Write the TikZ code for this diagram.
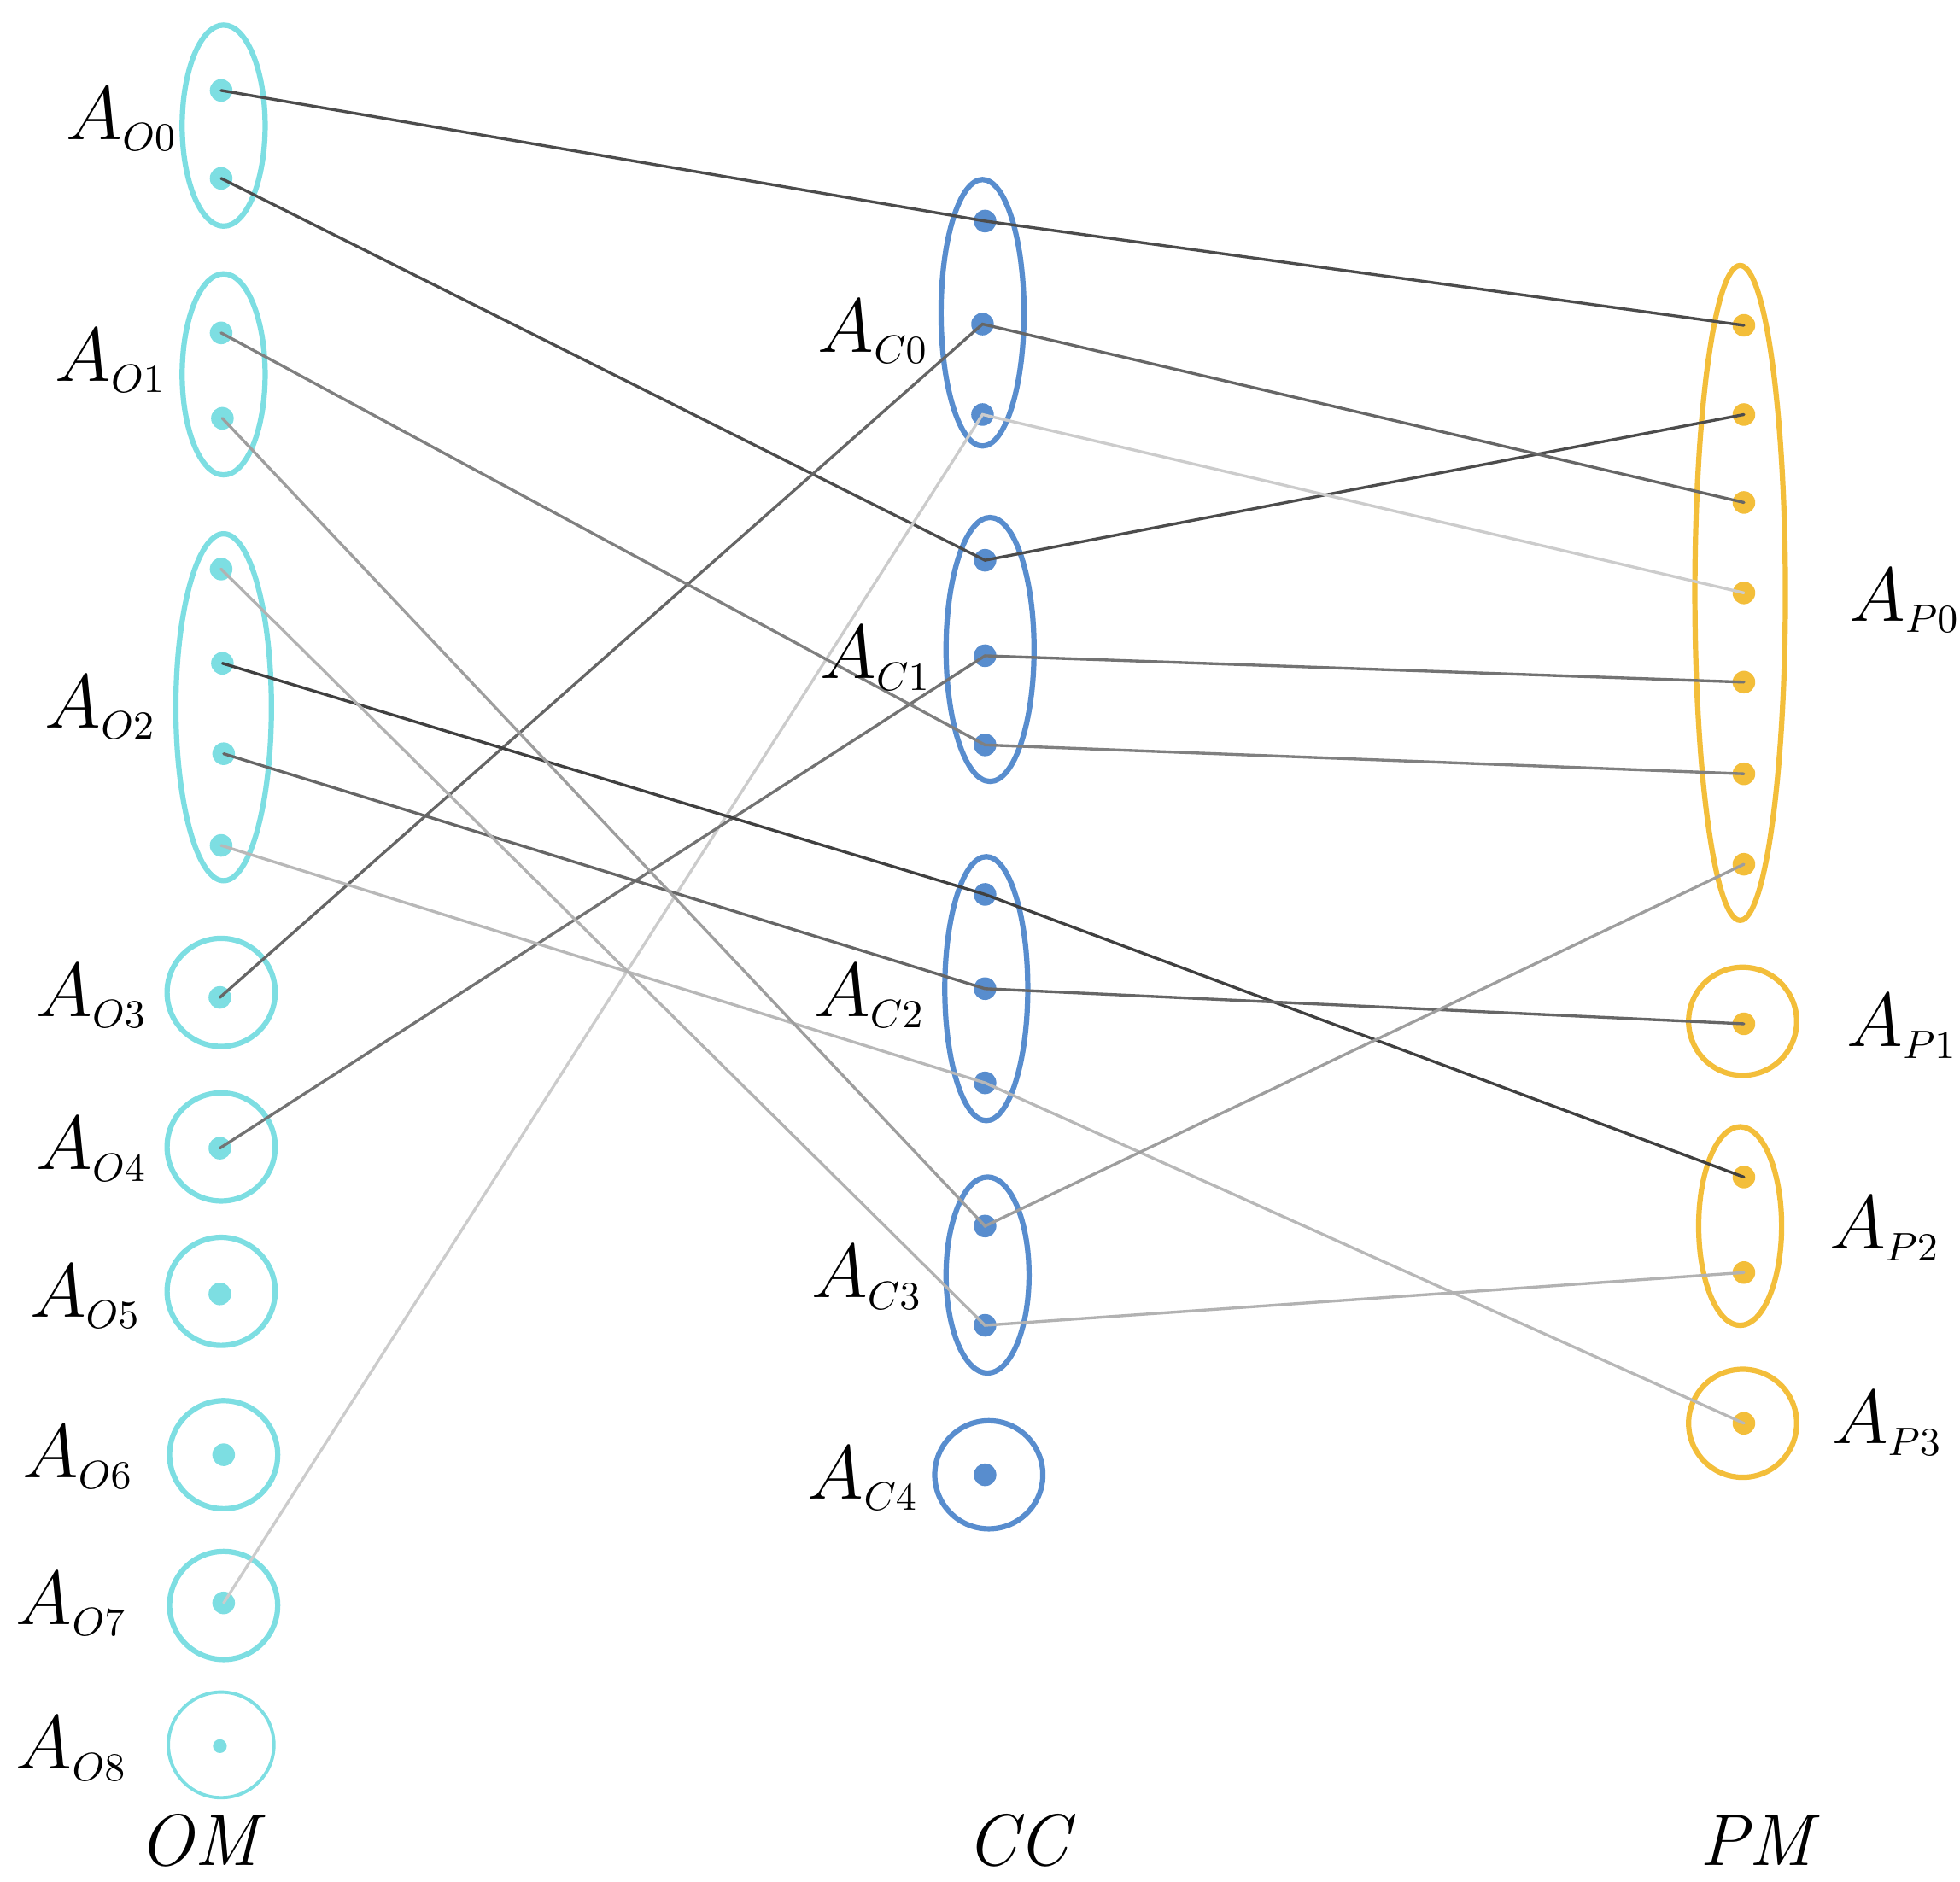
\documentclass[tikz,border=0pt]{standalone}
\usetikzlibrary{shapes.geometric}
\definecolor{omc}{RGB}{125,222,226}
\definecolor{ccc}{RGB}{88,141,206}
\definecolor{pmc}{RGB}{243,190,58}
\newcommand{\labA}[1]{$A_{\hbox{\fontsize{9.5}{10}\selectfont$#1$}}$}
\tikzset{
  grp/.style={ellipse, draw, line width=1.2pt, inner sep=0pt},
  omgrp/.style={grp, draw=omc},
  ccgrp/.style={grp, draw=ccc},
  pmgrp/.style={grp, draw=pmc},
  dotn/.style={circle, inner sep=0pt, minimum size=0.18cm},
  omdot/.style={dotn, fill=omc},
  ccdot/.style={dotn, fill=ccc},
  pmdot/.style={dotn, fill=pmc},
  lbl/.style={font=\fontsize{16}{18}\selectfont, inner sep=0pt},
  ttl/.style={font=\fontsize{16.5}{20}\selectfont\itshape, inner sep=0pt},
  link/.style={line width=0.65pt, line cap=round},
}
\begin{document}
\begin{tikzpicture}[x=0.01cm, y=-0.01cm]
\useasboundingbox (0,0) rectangle (1560,1498);
% OM groups
\node[omgrp, minimum width=0.66cm, minimum height=1.60cm] (O0) at (178,100) {};
\node[omgrp, minimum width=0.66cm, minimum height=1.60cm] (O1) at (178,298) {};
\node[omgrp, minimum width=0.76cm, minimum height=2.76cm] (O2) at (178,563) {};
\node[omgrp, minimum width=0.86cm, minimum height=0.86cm] (O3) at (176,790) {};
\node[omgrp, minimum width=0.86cm, minimum height=0.86cm] (O4) at (176,913) {};
\node[omgrp, minimum width=0.86cm, minimum height=0.86cm] (O5) at (176,1028) {};
\node[omgrp, minimum width=0.86cm, minimum height=0.86cm] (O6) at (178,1158) {};
\node[omgrp, minimum width=0.86cm, minimum height=0.86cm] (O7) at (178,1278) {};
\node[omgrp, line width=0.75pt, minimum width=0.84cm, minimum height=0.84cm] (O8) at (176,1389) {};
% CC groups
\node[ccgrp, minimum width=0.66cm, minimum height=2.12cm] (C0) at (782,249) {};
\node[ccgrp, minimum width=0.70cm, minimum height=2.10cm] (C1) at (788,517) {};
\node[ccgrp, minimum width=0.66cm, minimum height=2.10cm] (C2) at (785,787) {};
\node[ccgrp, minimum width=0.66cm, minimum height=1.56cm] (C3) at (786,1015) {};
\node[ccgrp, minimum width=0.86cm, minimum height=0.86cm] (C4) at (787,1174) {};
% PM groups
\node[pmgrp, minimum width=0.72cm, minimum height=5.21cm] (P0) at (1385,472) {};
\node[pmgrp, minimum width=0.86cm, minimum height=0.86cm] (P1) at (1387,813) {};
\node[pmgrp, minimum width=0.66cm, minimum height=1.58cm] (P2) at (1385,976) {};
\node[pmgrp, minimum width=0.86cm, minimum height=0.86cm] (P3) at (1387,1133) {};
% OM dots
\node[omdot] (o0a) at (176,72) {};
\node[omdot] (o0b) at (176,142) {};
\node[omdot] (o1a) at (176,265) {};
\node[omdot] (o1b) at (177,333) {};
\node[omdot] (o2a) at (176,453) {};
\node[omdot] (o2b) at (177,528) {};
\node[omdot] (o2c) at (178,600) {};
\node[omdot] (o2d) at (176,673) {};
\node[omdot] (o3) at (175,794) {};
\node[omdot] (o4) at (175,914) {};
\node[omdot] (o5) at (175,1030) {};
\node[omdot] (o6) at (178,1158) {};
\node[omdot] (o7) at (178,1276) {};
\node[omdot, minimum size=0.11cm] (o8) at (175,1390) {};
% CC dots
\node[ccdot] (c0a) at (784,176) {};
\node[ccdot] (c0b) at (782,258) {};
\node[ccdot] (c0c) at (782,330) {};
\node[ccdot] (c1a) at (784,446) {};
\node[ccdot] (c1b) at (784,522) {};
\node[ccdot] (c1c) at (784,593) {};
\node[ccdot] (c2a) at (784,712) {};
\node[ccdot] (c2b) at (784,787) {};
\node[ccdot] (c2c) at (784,862) {};
\node[ccdot] (c3a) at (784,976) {};
\node[ccdot] (c3b) at (784,1055) {};
\node[ccdot] (c4) at (784,1174) {};
% PM dots
\node[pmdot] (p0a) at (1388,259) {};
\node[pmdot] (p0b) at (1388,330) {};
\node[pmdot] (p0c) at (1388,400) {};
\node[pmdot] (p0d) at (1388,472) {};
\node[pmdot] (p0e) at (1388,543) {};
\node[pmdot] (p0f) at (1388,616) {};
\node[pmdot] (p0g) at (1388,688) {};
\node[pmdot] (p1) at (1388,815) {};
\node[pmdot] (p2a) at (1388,937) {};
\node[pmdot] (p2b) at (1388,1013) {};
\node[pmdot] (p3) at (1388,1133) {};
% connectors
\draw[link, black!70] (o0a.center) -- (c0a.center) -- (p0a.center);
\draw[link, black!70] (o0b.center) -- (c1a.center) -- (p0b.center);
\draw[link, black!60] (o3.center) -- (c0b.center) -- (p0c.center);
\draw[link, black!20] (o7.center) -- (c0c.center) -- (p0d.center);
\draw[link, black!55] (o4.center) -- (c1b.center) -- (p0e.center);
\draw[link, black!50] (o1a.center) -- (c1c.center) -- (p0f.center);
\draw[link, black!75] (o2b.center) -- (c2a.center) -- (p2a.center);
\draw[link, black!60] (o2c.center) -- (c2b.center) -- (p1.center);
\draw[link, black!28] (o2d.center) -- (c2c.center) -- (p3.center);
\draw[link, black!38] (o1b.center) -- (c3a.center) -- (p0g.center);
\draw[link, black!30] (o2a.center) -- (c3b.center) -- (p2b.center);
% labels
\node[lbl] (lO0) at (97,95) {\labA{O0}};
\node[lbl] (lO1) at (88,287) {\labA{O1}};
\node[lbl] (lO2) at (80,563) {\labA{O2}};
\node[lbl] (lO3) at (73,793) {\labA{O3}};
\node[lbl] (lO4) at (73,915) {\labA{O4}};
\node[lbl] (lO5) at (68,1032) {\labA{O5}};
\node[lbl] (lO6) at (62,1160) {\labA{O6}};
\node[lbl] (lO7) at (57,1277) {\labA{O7}};
\node[lbl] (lO8) at (57,1392) {\labA{O8}};
\node[lbl] (lC0) at (695,264) {\labA{C0}};
\node[lbl] (lC1) at (697,524) {\labA{C1}};
\node[lbl] (lC2) at (692,793) {\labA{C2}};
\node[lbl] (lC3) at (690,1017) {\labA{C3}};
\node[lbl] (lC4) at (687,1177) {\labA{C4}};
\node[lbl] (lP0) at (1516,478) {\labA{P0}};
\node[lbl] (lP1) at (1514,817) {\labA{P1}};
\node[lbl] (lP2) at (1500,978) {\labA{P2}};
\node[lbl] (lP3) at (1502,1133) {\labA{P3}};
\node[ttl] (tOM) at (158,1465) {OM};
\node[ttl] (tCC) at (810,1465) {CC};
\node[ttl] (tPM) at (1398,1465) {PM};
\end{tikzpicture}
\end{document}
